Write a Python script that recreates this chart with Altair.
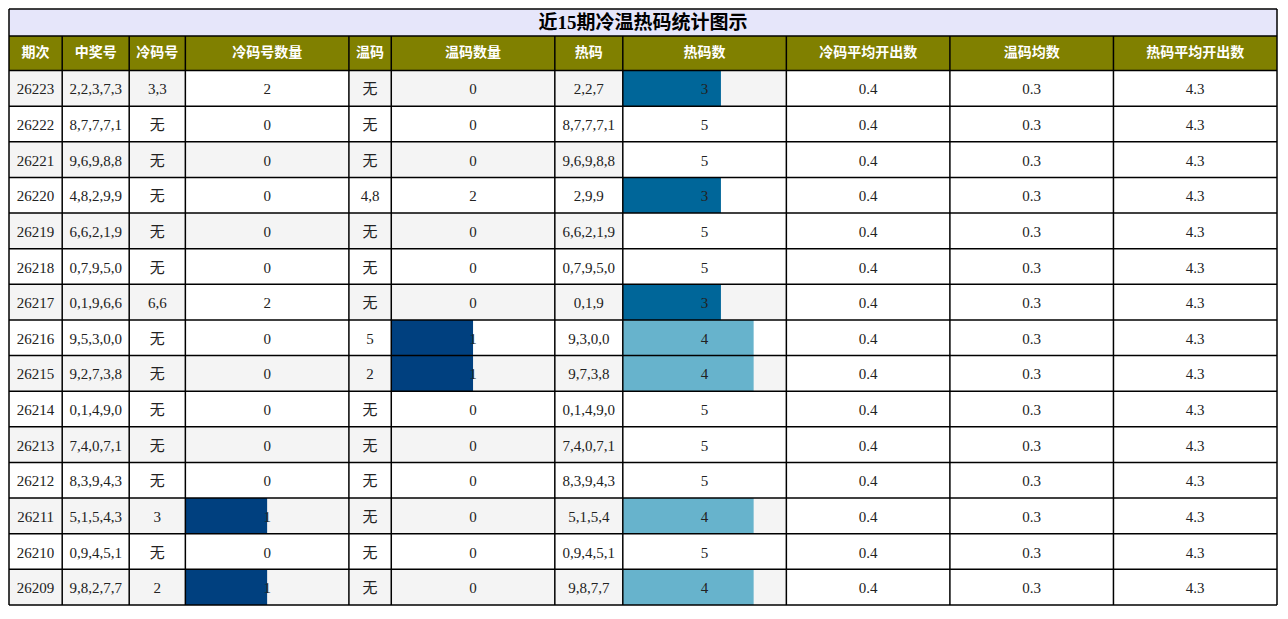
import altair as alt
import pandas as pd

title_text = "近15期冷温热码统计图示"
headers = ["期次", "中奖号", "冷码号", "冷码号数量", "温码", "温码数量",
           "热码", "热码数", "冷码平均开出数", "温码均数", "热码平均开出数"]

periods = [26223, 26222, 26221, 26220, 26219, 26218, 26217, 26216,
           26215, 26214, 26213, 26212, 26211, 26210, 26209]
winning = ["2,2,3,7,3", "8,7,7,7,1", "9,6,9,8,8", "4,8,2,9,9", "6,6,2,1,9",
           "0,7,9,5,0", "0,1,9,6,6", "9,5,3,0,0", "9,2,7,3,8", "0,1,4,9,0",
           "7,4,0,7,1", "8,3,9,4,3", "5,1,5,4,3", "0,9,4,5,1", "9,8,2,7,7"]
cold = ["3,3", "无", "无", "无", "无", "无", "6,6", "无", "无", "无",
        "无", "无", "3", "无", "2"]
cold_cnt = [2, 0, 0, 0, 0, 0, 2, 0, 0, 0, 0, 0, 1, 0, 1]
warm = ["无", "无", "无", "4,8", "无", "无", "无", "5", "2", "无",
        "无", "无", "无", "无", "无"]
warm_cnt = [0, 0, 0, 2, 0, 0, 0, 1, 1, 0, 0, 0, 0, 0, 0]
hot = ["2,2,7", "8,7,7,7,1", "9,6,9,8,8", "2,9,9", "6,6,2,1,9",
       "0,7,9,5,0", "0,1,9", "9,3,0,0", "9,7,3,8", "0,1,4,9,0",
       "7,4,0,7,1", "8,3,9,4,3", "5,1,5,4", "0,9,4,5,1", "9,8,7,7"]
hot_cnt = [3, 5, 5, 3, 5, 5, 3, 4, 4, 5, 5, 5, 4, 5, 4]
cold_avg = [0.4] * 15
warm_avg = [0.3] * 15
hot_avg = [4.3] * 15

# layout (table units) and styles
col_widths = [54, 68, 57, 166, 43, 166, 69, 166, 166, 166, 166]
title_h, header_h, row_h = 28, 36, 37
TITLE_BG, HEADER_BG, ROW_GRAY = "#e6e6fa", "#808000", "#f4f4f4"
NAVY, TEAL, LIGHT = "#00407f", "#006699", "#67b3cc"
SERIF = "Liberation Serif, Noto Sans CJK SC"
SANS = "Noto Sans CJK SC"

columns = [periods, winning, cold, cold_cnt, warm, warm_cnt,
           hot, hot_cnt, cold_avg, warm_avg, hot_avg]
# databar columns: index -> colour per value (full bar drawn white)
bar_colors = {
    3: {1: NAVY, 2: "white"},
    5: {1: NAVY, 2: "white"},
    7: {3: TEAL, 4: LIGHT, 5: "white"},
    8: {0.4: "white"},
    9: {0.3: "white"},
    10: {4.3: "white"},
}

edges = [0]
for w in col_widths:
    edges.append(edges[-1] + w)
total_w = edges[-1]
n_rows = len(periods)
body_top = title_h + header_h
total_h = body_top + n_rows * row_h

xs = alt.Scale(domain=[0, total_w], nice=False, zero=False)
ys = alt.Scale(domain=[0, total_h], nice=False, zero=False, reverse=True)


def rects(df):
    return alt.Chart(df).mark_rect().encode(
        x=alt.X('x0:Q', scale=xs, axis=None), x2='x1:Q',
        y=alt.Y('y0:Q', scale=ys, axis=None), y2='y1:Q',
        color=alt.Color('fill:N', scale=None)
    )


def texts(df, **kw):
    return alt.Chart(df).mark_text(align='center', baseline='middle', **kw).encode(
        x=alt.X('xc:Q', scale=xs, axis=None),
        y=alt.Y('yc:Q', scale=ys, axis=None),
        text='label:N'
    )


title_bg = pd.DataFrame([dict(x0=0, x1=total_w, y0=0, y1=title_h, fill=TITLE_BG)])
title_lbl = pd.DataFrame([dict(xc=total_w / 2, yc=title_h / 2 + 1, label=title_text)])

head_rows, head_lbls, cell_bg, bars, cell_lbls = [], [], [], [], []
for c, name in enumerate(headers):
    x0, x1 = edges[c], edges[c + 1]
    head_rows.append(dict(x0=x0, x1=x1, y0=title_h, y1=body_top, fill=HEADER_BG))
    head_lbls.append(dict(xc=(x0 + x1) / 2, yc=title_h + header_h / 2, label=name))
    col = columns[c]
    vmax = max(col) if c in bar_colors else None
    for r in range(n_rows):
        y0 = body_top + r * row_h
        y1 = y0 + row_h
        cell_bg.append(dict(x0=x0, x1=x1, y0=y0, y1=y1,
                            fill=ROW_GRAY if r % 2 == 0 else "white"))
        v = col[r]
        if c in bar_colors and v > 0:
            bars.append(dict(x0=x0, x1=x0 + (x1 - x0) * v / vmax, y0=y0, y1=y1,
                             fill=bar_colors[c][v]))
        cell_lbls.append(dict(xc=(x0 + x1) / 2, yc=(y0 + y1) / 2 + 1, label=str(v)))

lines = []
for yy in [0, title_h] + [body_top + r * row_h for r in range(n_rows + 1)]:
    lines.append(dict(x0=0, x1=total_w, y0=yy, y1=yy))
for i, xx in enumerate(edges):
    top = 0 if i in (0, len(edges) - 1) else title_h
    lines.append(dict(x0=xx, x1=xx, y0=top, y1=total_h))
lines = pd.DataFrame(lines)

grid = alt.Chart(lines).mark_rule(color='black', strokeWidth=1.5).encode(
    x=alt.X('x0:Q', scale=xs, axis=None), x2='x1:Q',
    y=alt.Y('y0:Q', scale=ys, axis=None), y2='y1:Q'
)

chart = alt.layer(
    rects(title_bg),
    rects(pd.DataFrame(head_rows)),
    rects(pd.DataFrame(cell_bg)),
    rects(pd.DataFrame(bars)),
    grid,
    texts(pd.DataFrame(head_lbls), font=SANS, fontSize=14, fontWeight='bold', color='white'),
    texts(pd.DataFrame(cell_lbls), font=SERIF, fontSize=15, color='#222222'),
    texts(title_lbl, font=SERIF, fontSize=19, fontWeight='bold', color='black'),
).properties(
    width=1268, height=596, padding=1, autosize='none'
).configure_view(strokeWidth=0)

chart.save("out.html", embed_options={"renderer": "svg", "actions": False})
